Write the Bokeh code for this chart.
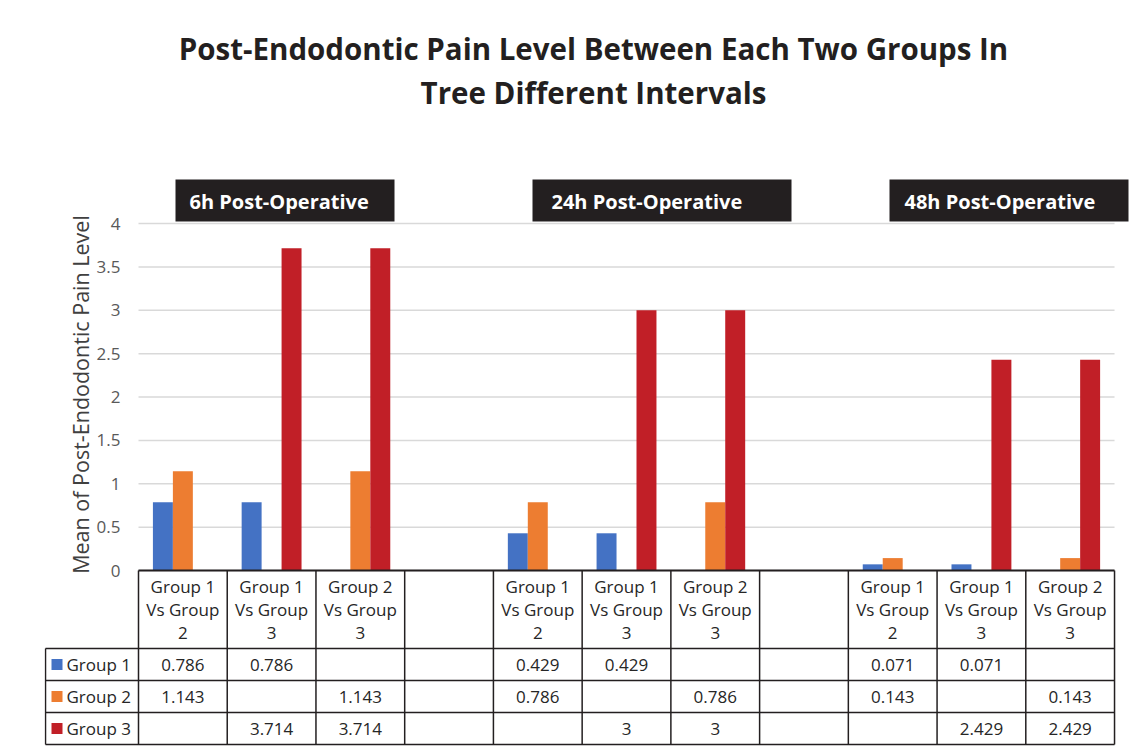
import math
from bokeh.plotting import figure
from bokeh.models import Range1d, FixedTicker
from bokeh.core.properties import value
from bokeh.embed import file_html
from bokeh.resources import INLINE

# ---------------- data ----------------
title_lines = ["Post-Endodontic Pain Level Between Each Two Groups In",
               "Tree Different Intervals"]
intervals = ["6h Post-Operative", "24h Post-Operative", "48h Post-Operative"]
comparisons = ["Group 1\nVs Group\n2", "Group 1\nVs Group\n3", "Group 2\nVs Group\n3"]
categories = comparisons + [""] + comparisons + [""] + comparisons
series_names = ["Group 1", "Group 2", "Group 3"]
group1 = [0.786, 0.786, None, None, 0.429, 0.429, None, None, 0.071, 0.071, None]
group2 = [1.143, None, 1.143, None, 0.786, None, 0.786, None, 0.143, None, 0.143]
group3 = [None, 3.714, 3.714, None, None, 3, 3, None, None, 2.429, 2.429]
y_ticks = [0, 0.5, 1, 1.5, 2, 2.5, 3, 3.5, 4]
y_label = "Mean of Post-Endodontic Pain Level"
colors = ["#4472C4", "#ED7D31", "#C11F27"]

# ---------------- layout ----------------
FONT = value("Open Sans")
INK = "#231F20"
TXT = "#262626"
W, H = 1131, 750
SLOT = 88.73          # px per category slot
UNIT = 86.75          # px per y unit
F_LEFT = 138          # page x of first category slot
F_BOTTOM = 570        # page y of value 0
FRAME_LEFT = 44
n = len(categories)
BAR_W = 0.225


def sx(px):  # page px -> slot coordinate
    return (px - F_LEFT) / SLOT


def sy(py):  # page px -> value coordinate
    return (F_BOTTOM - py) / UNIT


p = figure(width=W, height=H, output_backend="svg", toolbar_location=None,
           x_axis_location=None, min_border_left=FRAME_LEFT, min_border_right=0,
           min_border_top=0, min_border_bottom=0,
           x_range=Range1d(sx(FRAME_LEFT), sx(W)), y_range=Range1d(sy(H), sy(0)))
p.outline_line_color = None
p.grid.visible = False

ax = p.yaxis[0]
ax.fixed_location = 0
ax.ticker = FixedTicker(ticks=y_ticks)
ax.major_label_overrides = {t: f"{t:g}" for t in y_ticks}
ax.bounds = (y_ticks[0], y_ticks[-1])
ax.axis_line_color = None
ax.major_tick_line_color = None
ax.minor_tick_line_color = None
ax.major_tick_out = 0
ax.major_tick_in = 0
ax.minor_tick_out = 0
ax.major_label_standoff = 18
ax.major_label_text_font = "Open Sans"
ax.major_label_text_font_size = "17px"
ax.major_label_text_color = "#595959"

# y axis title
p.text(x=[sx(80)], y=[sy(394)], text=[y_label], angle=math.pi / 2, text_font=FONT,
       text_font_size="21.5px", text_color="#404040", text_align="center",
       text_baseline="middle")

# gridlines
p.segment(x0=[0] * len(y_ticks), x1=[n] * len(y_ticks), y0=y_ticks, y1=y_ticks,
          line_color="#D9D9D9", line_width=1.5)

# bars
for k, vals in enumerate([group1, group2, group3]):
    xs = [i + 0.5 + (k - 1) * BAR_W for i, v in enumerate(vals) if v is not None]
    tops = [v for v in vals if v is not None]
    p.vbar(x=xs, top=tops, bottom=0, width=BAR_W, fill_color=colors[k], line_color=None)

# title
p.text(x=[sx(593)] * 2, y=[sy(48), sy(92)], text=title_lines, text_font=FONT,
       text_font_style="bold", text_font_size="29.5px", text_color=INK,
       text_align="center", text_baseline="middle")

# interval boxes
box_left = [175, 532, 889]
box_right = [394, 791, 1128]
txt_left = [189, 551, 904]
p.quad(left=[sx(v) for v in box_left], right=[sx(v) for v in box_right],
       top=sy(179), bottom=sy(221), fill_color=INK, line_color=None)
p.text(x=[sx(v) for v in txt_left], y=[sy(201)] * 3, text=intervals, text_font=FONT,
       text_font_style="bold", text_font_size="20px", text_color="white",
       text_align="left", text_baseline="middle")

# ---------------- table ----------------
T_LEFT = 45
T_TOP = 570
row_edges = [648, 680, 712, 744]
xt = sx(T_LEFT)

p.segment(x0=[0], x1=[n], y0=[sy(T_TOP)], y1=[sy(T_TOP)], line_color=INK, line_width=2.2)
p.segment(x0=[xt] * 4, x1=[n] * 4, y0=[sy(v) for v in row_edges], y1=[sy(v) for v in row_edges],
          line_color=INK, line_width=1.5)
p.segment(x0=list(range(n + 1)), x1=list(range(n + 1)), y0=[sy(T_TOP)] * (n + 1),
          y1=[sy(row_edges[-1])] * (n + 1), line_color=INK, line_width=1.5)
p.segment(x0=[xt], x1=[xt], y0=[sy(row_edges[0])], y1=[sy(row_edges[-1])],
          line_color=INK, line_width=1.5)

# header labels
hx = [i + 0.5 for i, c in enumerate(categories) if c]
ht = [c for c in categories if c]
p.text(x=hx, y=[sy(609)] * len(hx), text=ht, text_font=FONT, text_font_size="17px",
       text_color=TXT, text_align="center", text_baseline="middle",
       text_line_height=1.02)

# rows
for k, (name, vals) in enumerate(zip(series_names, [group1, group2, group3])):
    cy = sy((row_edges[k] + row_edges[k + 1]) / 2)
    p.rect(x=[sx(56.5)], y=[cy], width=11 / SLOT, height=11 / UNIT,
           fill_color=colors[k], line_color=None)
    p.text(x=[sx(66)], y=[cy], text=[name], text_font=FONT, text_font_size="17px",
           text_color=TXT, text_align="left", text_baseline="middle")
    xs = [i + 0.5 for i, v in enumerate(vals) if v is not None]
    labels = [f"{v:g}" for v in vals if v is not None]
    p.text(x=xs, y=[cy] * len(xs), text=labels, text_font=FONT, text_font_size="17px",
           text_color=TXT, text_align="center", text_baseline="middle")

open("out.html", "w").write(file_html(p, INLINE))
